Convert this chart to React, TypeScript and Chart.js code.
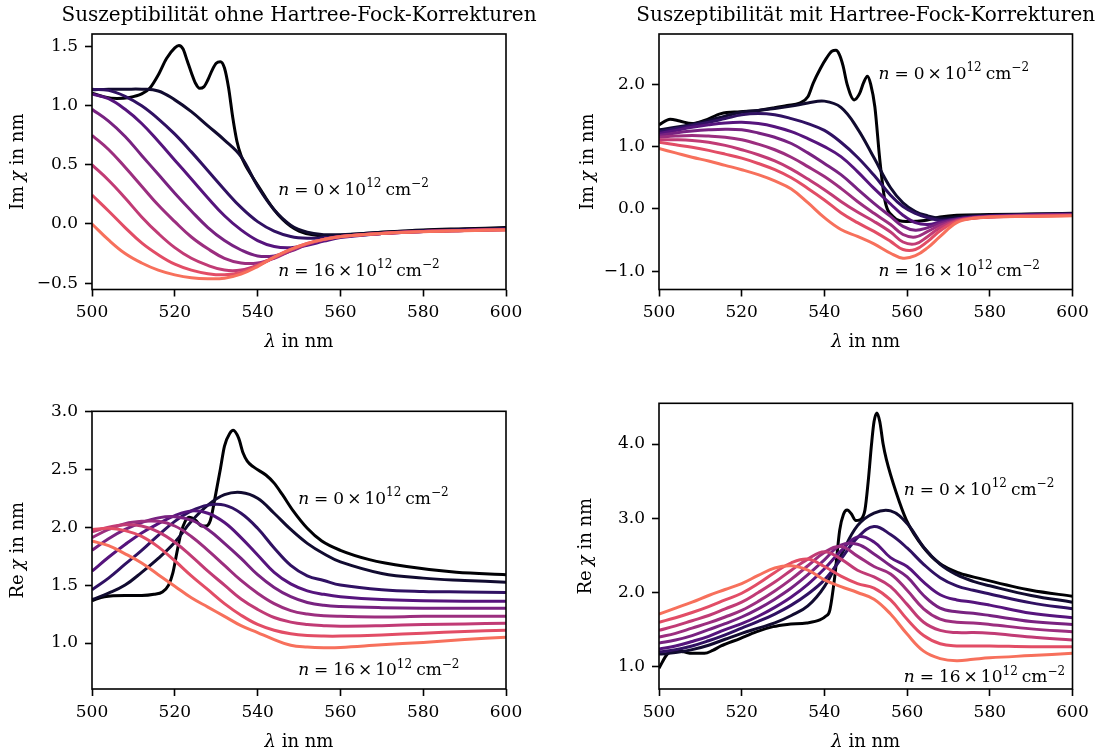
import React, { useEffect, useRef } from 'react';
import { Chart, registerables } from 'chart.js';

Chart.register(...registerables);

const FONT = '"DejaVu Serif", "Liberation Serif", serif';
const TICK_PX = 17;
const LABEL_PX = 18;
const TITLE_PX = 20;
const NOTE_PX = 17;
const CW = 554;
const CH = 378;

// carrier densities (10^12 cm^-2) and magma-like colours
const densities = [0, 2, 4, 6, 8, 10, 12, 14, 16];
const lineColors = ['#000004', '#110b30', '#301163', '#56147d', '#782281', '#9c2e7f', '#c13b75', '#e24d66', '#f7705c'];

// axis ticks
const lambdaTicks = [500, 520, 540, 560, 580, 600];
const imTicksNoHF = [-0.5, 0, 0.5, 1.0, 1.5];
const imTicksHF = [-1, 0, 1, 2];
const reTicksNoHF = [1.0, 1.5, 2.0, 2.5, 3.0];
const reTicksHF = [1, 2, 3, 4];

// wavelength grids (nm)
const lamGridA = [500, 504, 508, 512, 516, 520, 524, 528, 532, 536, 540, 544, 548, 552, 556, 560, 570, 580, 590, 600];
const lamGridB = [500, 504, 508, 512, 516, 520, 524, 528, 532, 536, 540, 544, 548, 552, 556, 559, 562, 565, 568, 572, 576, 580, 590, 600];
const lamGridC = [500, 504, 508, 512, 516, 520, 524, 528, 532, 536, 540, 544, 548, 552, 556, 560, 564, 568, 572, 576, 580, 590, 600];

// ---- Im chi without Hartree-Fock ----
const lamImNoHF0 = [500, 503, 506, 509, 512, 514, 516, 518, 520, 521, 522, 523, 524, 525, 526, 527, 528, 529, 530, 531, 532, 533, 534, 535, 536, 537, 538, 540, 542, 544, 546, 548, 550, 553, 556, 560, 570, 580, 590, 600];
const imNoHF0 = [1.107, 1.075, 1.062, 1.07, 1.1, 1.15, 1.26, 1.40, 1.49, 1.51, 1.48, 1.38, 1.28, 1.19, 1.148, 1.16, 1.22, 1.30, 1.36, 1.373, 1.32, 1.15, 0.9, 0.7, 0.58, 0.5, 0.44, 0.33, 0.22, 0.12, 0.04, -0.02, -0.06, -0.09, -0.1, -0.095, -0.07, -0.05, -0.04, -0.03];
const imNoHF = [
  [1.135, 1.14, 1.14, 1.14, 1.125, 1.05, 0.95, 0.83, 0.71, 0.57, 0.32, 0.12, -0.01, -0.07, -0.09, -0.09, -0.07, -0.055, -0.045, -0.035],
  [1.14, 1.13, 1.08, 1.0, 0.89, 0.76, 0.61, 0.45, 0.29, 0.14, 0.02, -0.06, -0.105, -0.12, -0.115, -0.105, -0.08, -0.06, -0.05, -0.042],
  [1.10, 1.06, 0.97, 0.85, 0.70, 0.54, 0.38, 0.22, 0.07, -0.05, -0.14, -0.19, -0.2, -0.18, -0.145, -0.115, -0.08, -0.063, -0.053, -0.045],
  [0.97, 0.87, 0.74, 0.58, 0.42, 0.26, 0.11, -0.03, -0.14, -0.22, -0.27, -0.27, -0.23, -0.175, -0.135, -0.107, -0.08, -0.063, -0.054, -0.046],
  [0.75, 0.63, 0.48, 0.32, 0.16, 0.02, -0.11, -0.21, -0.29, -0.33, -0.33, -0.29, -0.225, -0.17, -0.13, -0.105, -0.08, -0.064, -0.055, -0.047],
  [0.50, 0.37, 0.22, 0.06, -0.08, -0.2, -0.29, -0.35, -0.39, -0.39, -0.35, -0.285, -0.22, -0.168, -0.13, -0.105, -0.08, -0.064, -0.055, -0.048],
  [0.245, 0.11, -0.03, -0.16, -0.26, -0.34, -0.39, -0.42, -0.43, -0.41, -0.35, -0.28, -0.215, -0.165, -0.13, -0.105, -0.078, -0.063, -0.055, -0.048],
  [0.0, -0.135, -0.25, -0.33, -0.39, -0.43, -0.455, -0.463, -0.458, -0.424, -0.36, -0.28, -0.215, -0.164, -0.13, -0.107, -0.08, -0.065, -0.057, -0.05],
];

// ---- Im chi with Hartree-Fock ----
const lamImHF0 = [500, 502.7, 505, 508, 511, 515, 519.6, 524, 527.6, 531, 534, 536, 537.3, 539, 540.5, 541.8, 542.8, 543.6, 544.5, 545.5, 547.2, 548.5, 549.5, 550.4, 551.2, 552.2, 553.4, 554.6, 556.6, 559.8, 564.7, 568, 572, 580, 590, 600];
const imHF0 = [1.35, 1.44, 1.41, 1.37, 1.42, 1.53, 1.56, 1.58, 1.62, 1.66, 1.70, 1.8, 2.02, 2.25, 2.42, 2.53, 2.545, 2.48, 2.3, 2.0, 1.75, 1.85, 2.03, 2.13, 2.0, 1.64, 0.79, 0.15, -0.12, -0.2, -0.18, -0.13, -0.1, -0.09, -0.08, -0.07];
const imHF = [
  [1.27, 1.31, 1.36, 1.42, 1.49, 1.55, 1.58, 1.61, 1.65, 1.70, 1.73, 1.63, 1.29, 0.82, 0.34, 0.10, -0.04, -0.11, -0.15, -0.13, -0.11, -0.10, -0.085, -0.075],
  [1.24, 1.29, 1.34, 1.39, 1.45, 1.51, 1.53, 1.51, 1.45, 1.37, 1.26, 1.07, 0.83, 0.54, 0.22, 0.04, -0.07, -0.14, -0.18, -0.16, -0.13, -0.11, -0.09, -0.08],
  [1.21, 1.26, 1.31, 1.35, 1.38, 1.39, 1.37, 1.32, 1.24, 1.13, 1.0, 0.84, 0.6, 0.33, 0.08, -0.1, -0.22, -0.25, -0.21, -0.16, -0.13, -0.115, -0.095, -0.085],
  [1.18, 1.22, 1.25, 1.27, 1.28, 1.27, 1.22, 1.15, 1.05, 0.9, 0.73, 0.55, 0.32, 0.09, -0.12, -0.28, -0.34, -0.3, -0.23, -0.17, -0.135, -0.12, -0.1, -0.09],
  [1.15, 1.17, 1.18, 1.17, 1.15, 1.11, 1.04, 0.95, 0.83, 0.68, 0.52, 0.33, 0.12, -0.07, -0.25, -0.41, -0.45, -0.36, -0.26, -0.18, -0.14, -0.125, -0.105, -0.095],
  [1.11, 1.11, 1.10, 1.07, 1.02, 0.95, 0.87, 0.77, 0.64, 0.48, 0.31, 0.12, -0.05, -0.2, -0.37, -0.53, -0.56, -0.44, -0.3, -0.19, -0.145, -0.13, -0.11, -0.1],
  [1.07, 1.03, 0.99, 0.94, 0.88, 0.815, 0.73, 0.63, 0.5, 0.33, 0.145, -0.06, -0.22, -0.36, -0.52, -0.65, -0.65, -0.52, -0.35, -0.2, -0.15, -0.13, -0.115, -0.105],
  [0.97, 0.9, 0.83, 0.77, 0.7, 0.63, 0.55, 0.45, 0.32, 0.1, -0.14, -0.33, -0.44, -0.56, -0.71, -0.79, -0.75, -0.62, -0.44, -0.22, -0.15, -0.13, -0.12, -0.11],
];

// ---- Re chi without Hartree-Fock ----
const lamReNoHF0 = [500, 503, 508, 512, 515, 517, 518.5, 519.5, 520.5, 521.5, 522.5, 523.5, 525, 526.5, 527.5, 528.6, 529.8, 531, 532, 533.3, 534.1, 535.4, 536.5, 537.5, 539, 542, 544, 546, 548.6, 552, 555.5, 560, 567, 576, 588, 600];
const reNoHF0 = [1.365, 1.4, 1.41, 1.41, 1.42, 1.44, 1.5, 1.6, 1.78, 1.95, 2.05, 2.085, 2.06, 2.01, 2.01, 2.06, 2.27, 2.5, 2.7, 2.81, 2.836, 2.77, 2.64, 2.57, 2.52, 2.45, 2.38, 2.28, 2.14, 1.99, 1.88, 1.8, 1.72, 1.66, 1.61, 1.59];
const reNoHF = [
  [1.375, 1.43, 1.5, 1.61, 1.73, 1.87, 2.05, 2.19, 2.28, 2.3, 2.25, 2.12, 1.98, 1.86, 1.77, 1.7, 1.6, 1.56, 1.54, 1.525],
  [1.46, 1.56, 1.68, 1.8, 1.93, 2.05, 2.14, 2.19, 2.19, 2.12, 1.99, 1.82, 1.67, 1.58, 1.54, 1.5, 1.46, 1.445, 1.44, 1.435],
  [1.62, 1.74, 1.85, 1.95, 2.03, 2.1, 2.14, 2.12, 2.04, 1.91, 1.76, 1.61, 1.51, 1.45, 1.42, 1.4, 1.375, 1.365, 1.36, 1.36],
  [1.80, 1.9, 1.98, 2.04, 2.08, 2.09, 2.06, 1.98, 1.86, 1.73, 1.59, 1.48, 1.4, 1.35, 1.325, 1.315, 1.305, 1.30, 1.30, 1.30],
  [1.91, 1.98, 2.03, 2.05, 2.05, 2.01, 1.92, 1.8, 1.67, 1.54, 1.43, 1.34, 1.28, 1.25, 1.235, 1.23, 1.225, 1.23, 1.23, 1.23],
  [1.96, 2.0, 2.02, 2.01, 1.96, 1.87, 1.75, 1.62, 1.5, 1.38, 1.29, 1.22, 1.18, 1.16, 1.15, 1.145, 1.15, 1.16, 1.165, 1.17],
  [1.98, 1.99, 1.97, 1.92, 1.83, 1.71, 1.58, 1.46, 1.34, 1.24, 1.16, 1.11, 1.08, 1.065, 1.06, 1.06, 1.07, 1.085, 1.1, 1.11],
  [1.88, 1.84, 1.77, 1.69, 1.59, 1.49, 1.39, 1.31, 1.23, 1.15, 1.09, 1.03, 0.98, 0.965, 0.96, 0.962, 0.985, 1.005, 1.03, 1.05],
];

// ---- Re chi with Hartree-Fock ----
const lamReHF0 = [500, 502, 504, 506, 508, 511, 513, 515, 519.6, 523.5, 527.6, 531, 535.7, 538.9, 540.3, 541.3, 542.5, 543.7, 544.6, 545.5, 546.5, 547.6, 548.6, 549.8, 550.6, 551.4, 552, 552.7, 553.4, 554.2, 555, 557.4, 559.8, 563.8, 567.9, 572.7, 577.5, 590, 600];
const reHF0 = [0.98, 1.17, 1.22, 1.2, 1.18, 1.18, 1.22, 1.28, 1.38, 1.47, 1.54, 1.57, 1.59, 1.63, 1.68, 1.76, 2.21, 2.84, 3.05, 3.11, 3.06, 2.97, 2.98, 3.11, 3.5, 4.0, 4.3, 4.42, 4.3, 4.0, 3.79, 3.34, 2.98, 2.62, 2.39, 2.26, 2.19, 2.03, 1.95];
const reHF = [
  [1.17, 1.19, 1.23, 1.29, 1.37, 1.45, 1.52, 1.59, 1.69, 1.82, 2.08, 2.5, 2.9, 3.07, 3.1, 2.93, 2.61, 2.38, 2.24, 2.15, 2.09, 1.96, 1.87],
  [1.2, 1.23, 1.28, 1.35, 1.43, 1.52, 1.61, 1.71, 1.83, 1.98, 2.17, 2.45, 2.74, 2.89, 2.78, 2.6, 2.38, 2.2, 2.09, 2.03, 1.98, 1.86, 1.78],
  [1.24, 1.28, 1.34, 1.41, 1.5, 1.58, 1.68, 1.8, 1.94, 2.11, 2.32, 2.56, 2.75, 2.68, 2.47, 2.35, 2.14, 1.97, 1.9, 1.87, 1.83, 1.72, 1.66],
  [1.32, 1.36, 1.42, 1.5, 1.58, 1.67, 1.78, 1.91, 2.06, 2.24, 2.44, 2.64, 2.65, 2.52, 2.36, 2.21, 1.96, 1.79, 1.74, 1.72, 1.69, 1.61, 1.57],
  [1.40, 1.45, 1.52, 1.59, 1.67, 1.76, 1.88, 2.02, 2.18, 2.36, 2.54, 2.62, 2.49, 2.35, 2.25, 2.03, 1.78, 1.64, 1.6, 1.59, 1.57, 1.51, 1.47],
  [1.49, 1.55, 1.62, 1.69, 1.78, 1.87, 2.0, 2.14, 2.3, 2.45, 2.55, 2.45, 2.3, 2.21, 2.08, 1.84, 1.6, 1.49, 1.46, 1.46, 1.45, 1.4, 1.36],
  [1.60, 1.66, 1.73, 1.81, 1.9, 1.99, 2.12, 2.27, 2.4, 2.45, 2.35, 2.22, 2.12, 2.06, 1.9, 1.64, 1.42, 1.31, 1.28, 1.28, 1.28, 1.27, 1.27],
  [1.71, 1.79, 1.87, 1.96, 2.04, 2.12, 2.23, 2.33, 2.36, 2.3, 2.17, 2.08, 2.0, 1.91, 1.71, 1.44, 1.21, 1.11, 1.08, 1.1, 1.12, 1.15, 1.18],
];

const titles = ['Suszeptibilität ohne Hartree-Fock-Korrekturen', 'Suszeptibilität mit Hartree-Fock-Korrekturen'];

type Piece = { t: string; it?: boolean; sup?: boolean; gap?: number };

function drawRich(ctx: CanvasRenderingContext2D, pieces: Piece[], x: number, y: number, size: number, align: 'left' | 'center') {
  const fontFor = (p: Piece) => `${p.it ? 'italic ' : ''}${p.sup ? Math.round(size * 0.7) : size}px ${FONT}`;
  const widths = pieces.map((p) => {
    if (p.gap !== undefined) return p.gap;
    ctx.font = fontFor(p);
    return ctx.measureText(p.t).width;
  });
  const total = widths.reduce((a, b) => a + b, 0);
  let cx = align === 'center' ? x - total / 2 : x;
  ctx.textAlign = 'left';
  pieces.forEach((p, i) => {
    if (p.gap === undefined) {
      ctx.font = fontFor(p);
      ctx.fillText(p.t, cx, p.sup ? y - size * 0.45 : y);
    }
    cx += widths[i];
  });
}

function notePieces(n: number): Piece[] {
  return [
    { t: 'n', it: true }, { t: '', gap: 5 }, { t: '=' }, { t: '', gap: 5 }, { t: String(n) }, { t: '', gap: 3 },
    { t: '×' }, { t: '', gap: 3 }, { t: '10' }, { t: '12', sup: true }, { t: '', gap: 4 }, { t: 'cm' }, { t: '−2', sup: true },
  ];
}

const fmtTick = (v: number) => (v < 0 ? '−' + Math.abs(v).toFixed(1) : v.toFixed(1));

type Curve = { x: number[]; y: number[] };
type Spec = {
  key: string; left: number; top: number;
  area: { l: number; t: number; r: number; b: number };
  yMin: number; yMax: number; yTicks: number[];
  title?: string; yName: string; yLabelX: number;
  curves: Curve[];
  notes: { lam: number; val: number; n: number }[];
};

function buildCurves(lam0: number[], y0: number[], grid: number[], rest: number[][]): Curve[] {
  return [{ x: lam0, y: y0 }, ...rest.map((r) => ({ x: grid, y: r }))];
}

const specs: Spec[] = [
  {
    key: 'tl', left: 0, top: 0, area: { l: 92, t: 34, r: 506, b: 289.5 },
    yMin: -0.554, yMax: 1.607, yTicks: imTicksNoHF, title: titles[0], yName: 'Im', yLabelX: 18,
    curves: buildCurves(lamImNoHF0, imNoHF0, lamGridA, imNoHF),
    notes: [{ lam: 545, val: 0.245, n: densities[0] }, { lam: 545, val: -0.44, n: densities[8] }],
  },
  {
    key: 'tr', left: 554, top: 0, area: { l: 105, t: 34, r: 518.5, b: 289.5 },
    yMin: -1.292, yMax: 2.807, yTicks: imTicksHF, title: titles[1], yName: 'Im', yLabelX: 34,
    curves: buildCurves(lamImHF0, imHF0, lamGridB, imHF),
    notes: [{ lam: 553.1, val: 2.09, n: densities[0] }, { lam: 553.1, val: -1.08, n: densities[8] }],
  },
  {
    key: 'bl', left: 0, top: 378, area: { l: 92, t: 33.3, r: 506, b: 311 },
    yMin: 0.603, yMax: 3.0, yTicks: reTicksNoHF, yName: 'Re', yLabelX: 18.5,
    curves: buildCurves(lamReNoHF0, reNoHF0, lamGridA, reNoHF),
    notes: [{ lam: 549.8, val: 2.2, n: densities[0] }, { lam: 549.8, val: 0.72, n: densities[8] }],
  },
  {
    key: 'br', left: 554, top: 378, area: { l: 105, t: 25.3, r: 518.5, b: 311 },
    yMin: 0.70, yMax: 4.549, yTicks: reTicksHF, yName: 'Re', yLabelX: 32,
    curves: buildCurves(lamReHF0, reHF0, lamGridC, reHF),
    notes: [{ lam: 559.2, val: 3.32, n: densities[0] }, { lam: 559.2, val: 0.79, n: densities[8] }],
  },
];

function makeDecor(spec: Spec) {
  return {
    id: 'decor_' + spec.key,
    afterDraw(chart: any) {
      const { ctx, chartArea: a } = chart;
      const xs = chart.scales.x;
      const ys = chart.scales.y;
      ctx.save();
      ctx.strokeStyle = '#000';
      ctx.lineWidth = 1.6;
      ctx.strokeRect(a.left, a.top, a.right - a.left, a.bottom - a.top);
      ctx.fillStyle = '#000';
      const cx = (a.left + a.right) / 2;
      if (spec.title) {
        ctx.font = `${TITLE_PX}px ${FONT}`;
        ctx.textAlign = 'center';
        ctx.textBaseline = 'alphabetic';
        ctx.fillText(spec.title, cx, 21);
      }
      ctx.textBaseline = 'middle';
      drawRich(ctx, [{ t: 'λ', it: true }, { t: ' in nm' }], cx, a.bottom + 53, LABEL_PX, 'center');
      ctx.save();
      ctx.translate(spec.yLabelX, (a.top + a.bottom) / 2);
      ctx.rotate(-Math.PI / 2);
      drawRich(ctx, [{ t: spec.yName }, { t: '', gap: 4 }, { t: 'χ', it: true }, { t: ' in nm' }], 0, 0, LABEL_PX, 'center');
      ctx.restore();
      ctx.textBaseline = 'alphabetic';
      spec.notes.forEach((nt) => {
        drawRich(ctx, notePieces(nt.n), xs.getPixelForValue(nt.lam), ys.getPixelForValue(nt.val), NOTE_PX, 'left');
      });
      ctx.restore();
    },
  };
}

function Panel({ spec }: { spec: Spec }) {
  const ref = useRef<HTMLCanvasElement>(null);
  useEffect(() => {
    const canvas = ref.current;
    if (!canvas) return;
    const area = spec.area;
    const chart = new Chart(canvas, {
      type: 'line',
      data: {
        datasets: spec.curves.map((c, i) => ({
          label: `n = ${densities[i]}`,
          data: c.x.map((x, j) => ({ x, y: c.y[j] })),
          borderColor: lineColors[i],
          backgroundColor: lineColors[i],
          borderWidth: 3,
          pointRadius: 0,
          fill: false,
          cubicInterpolationMode: i === 0 ? ('monotone' as const) : ('default' as const),
          tension: i === 0 ? 0 : 0.4,
          order: densities.length - i,
        })),
      },
      options: {
        responsive: false,
        animation: false,
        devicePixelRatio: 1,
        events: [],
        layout: { padding: { left: 0, top: area.t, right: CW - area.r, bottom: 0 } },
        plugins: { legend: { display: false }, tooltip: { enabled: false }, title: { display: false } },
        scales: {
          x: {
            type: 'linear',
            min: 500,
            max: 600,
            afterBuildTicks: (ax: any) => { ax.ticks = lambdaTicks.map((v) => ({ value: v })); },
            afterFit: (ax: any) => { ax.height = CH - area.b; },
            ticks: { color: '#000', font: { family: FONT, size: TICK_PX }, padding: 6, maxRotation: 0, autoSkip: false, callback: (v: any) => String(v) },
            grid: { display: true, drawOnChartArea: false, drawTicks: true, tickLength: 7, tickWidth: 1.6, tickColor: '#000' },
            border: { display: false },
          },
          y: {
            type: 'linear',
            min: spec.yMin,
            max: spec.yMax,
            afterBuildTicks: (ax: any) => { ax.ticks = spec.yTicks.map((v) => ({ value: v })); },
            afterFit: (ax: any) => { ax.width = area.l; },
            ticks: { color: '#000', font: { family: FONT, size: TICK_PX }, padding: 7, autoSkip: false, callback: (v: any) => fmtTick(Number(v)) },
            grid: { display: true, drawOnChartArea: false, drawTicks: true, tickLength: 7, tickWidth: 1.6, tickColor: '#000' },
            border: { display: false },
          },
        },
      } as any,
      plugins: [makeDecor(spec)],
    });
    return () => chart.destroy();
  }, [spec]);
  return (
    <canvas
      ref={ref}
      width={CW}
      height={CH}
      style={{ position: 'absolute', left: spec.left, top: spec.top, width: CW, height: CH }}
    />
  );
}

export default function App() {
  return (
    <div style={{ position: 'absolute', left: 0, top: 0, width: 1108, height: 756, background: '#fff', overflow: 'hidden' }}>
      {specs.map((s) => (
        <Panel key={s.key} spec={s} />
      ))}
    </div>
  );
}
